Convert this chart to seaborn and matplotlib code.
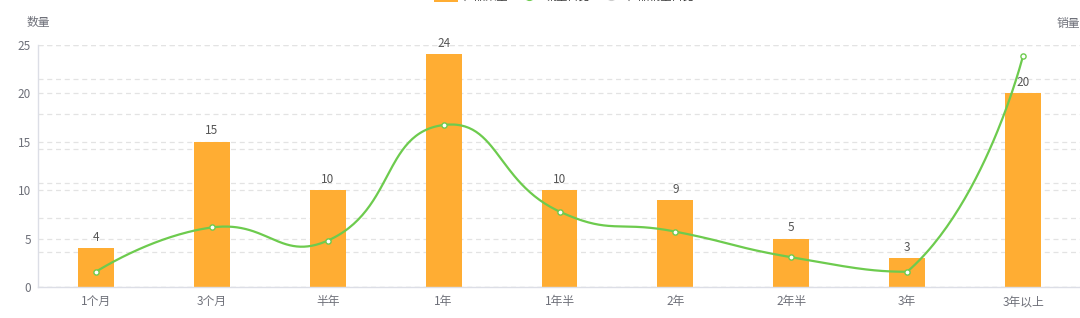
import numpy as np
import pandas as pd
import matplotlib
matplotlib.use("Agg")
import matplotlib.pyplot as plt
from matplotlib.lines import Line2D
from matplotlib.patches import Patch
import seaborn as sns

# ---------------- data ----------------
categories = ["1个月", "3个月", "半年", "1年", "1年半", "2年", "2年半", "3年", "3年以上"]
counts = [4, 15, 10, 24, 10, 9, 5, 3, 20]
sales_pct = [2.2, 8.6, 6.7, 23.4, 10.9, 8.0, 4.3, 2.2, 33.4]
legend_labels = ["产品数量", "销量占比", "产品销量占比"]
left_ticks = [0, 5, 10, 15, 20, 25]
right_max = 35
right_step = 5

# ---------------- style ----------------
sns.set_theme(style="white")
plt.rcParams["font.family"] = ["Noto Sans CJK SC", "DejaVu Sans"]
plt.rcParams["axes.unicode_minus"] = False

BAR = "#FFAD33"
LINE = "#6DCB4E"
TXT = "#6E7079"
AXC = "#DCDEE6"
GRID = "#E3E3E3"

W, H = 1080, 318
fig = plt.figure(figsize=(W / 100, H / 100), dpi=100)
left, right = 38 / W, 1081 / W
bottom, top = (H - 287) / H, (H - 44.7) / H
rect = [left, bottom, right - left, top - bottom]

# right-axis grid (kept underneath the bars)
axg = fig.add_axes(rect)
axg.set_zorder(0)
ax = fig.add_axes(rect)
ax.set_zorder(1)
ax.patch.set_visible(False)
axl = fig.add_axes(rect)
axl.set_zorder(2)
axl.patch.set_visible(False)

df = pd.DataFrame({"cat": categories, "count": counts})
sns.barplot(data=df, x="cat", y="count", color=BAR, width=0.31, ax=ax,
            saturation=1, linewidth=0)
ax.bar_label(ax.containers[0], padding=3, color="#555555", fontsize=8.5)

ax.set_xlim(-0.5, len(categories) - 0.5)
ax.set_ylim(0, left_ticks[-1])
ax.set_yticks(left_ticks)
ax.set_xlabel("")
ax.set_ylabel("")
ax.grid(axis="y", color=GRID, linestyle=(0, (4, 3)), linewidth=0.9)
ax.set_axisbelow(True)
for s in ["top", "right"]:
    ax.spines[s].set_visible(False)
for s in ["left", "bottom"]:
    ax.spines[s].set_color(AXC)
    ax.spines[s].set_linewidth(1)
ax.tick_params(axis="y", length=0, pad=5, labelsize=8.5, labelcolor=TXT)
ax.tick_params(axis="x", which="major", length=0, pad=6, labelsize=8.5, labelcolor=TXT)
ax.set_xticks(np.arange(-0.5, len(categories), 1.0), minor=True)
ax.tick_params(axis="x", which="minor", length=5, color=AXC, width=1)

# right grid axes
axg.set_xlim(ax.get_xlim())
axg.set_ylim(0, right_max)
axg.set_yticks(np.arange(0, right_max + 0.1, right_step))
axg.grid(axis="y", color=GRID, linestyle=(0, (4, 3)), linewidth=0.9)
axg.set_xticks([])
axg.tick_params(axis="y", length=0, labelleft=False)
for s in axg.spines.values():
    s.set_visible(False)

# smooth line (echarts-like bezier smoothing with bounding-box constraint)
xs = np.arange(len(categories), dtype=float)
ys = np.array(sales_pct, dtype=float)
sx = (1081 - 38) / len(categories)
sy = 242.3 / right_max
P = np.column_stack([xs * sx, ys * sy])
pmin, pmax = P.min(axis=0), P.max(axis=0)
smooth = 0.5
n = len(P)
cp0 = P.copy()
cp1 = P.copy()
for i in range(1, n - 1):
    v = (P[i + 1] - P[i - 1]) * smooth
    d0 = np.linalg.norm(P[i] - P[i - 1])
    d1 = np.linalg.norm(P[i + 1] - P[i])
    s = d0 + d1
    cp0[i] = np.clip(P[i] - v * d0 / s, pmin, pmax)
    cp1[i] = np.clip(P[i] + v * d1 / s, pmin, pmax)
curve = []
t = np.linspace(0, 1, 60)[:, None]
for i in range(n - 1):
    a, b, c, d = P[i], cp1[i], cp0[i + 1], P[i + 1]
    seg = (1 - t) ** 3 * a + 3 * (1 - t) ** 2 * t * b + 3 * (1 - t) * t ** 2 * c + t ** 3 * d
    curve.append(seg if i == 0 else seg[1:])
curve = np.vstack(curve)

axl.set_xlim(ax.get_xlim())
axl.set_ylim(0, right_max)
axl.plot(curve[:, 0] / sx, curve[:, 1] / sy, color=LINE, lw=1.6, solid_capstyle="round")
sns.scatterplot(x=xs, y=ys, ax=axl, s=14, color="white", edgecolor=LINE,
                linewidth=1, zorder=5, legend=False)
axl.set_xticks([])
axl.set_yticks([])
for s in axl.spines.values():
    s.set_visible(False)

# axis names
fig.text(38 / W, 1 - 22 / H, "数量", ha="center", va="center", fontsize=8.5, color=TXT)
fig.text(1080 / W, 1 - 24 / H, "销量", ha="right", va="center", fontsize=8.5, color=TXT)

# legend (cut off at the top as in the reference)
handles = [
    Patch(facecolor=BAR, edgecolor="none"),
    Line2D([0], [0], color=LINE, lw=1.6, marker="o", markersize=7,
           markerfacecolor="white", markeredgecolor=LINE),
    Line2D([0], [0], color="#CCCCCC", lw=1.6, marker="o", markersize=7,
           markerfacecolor="white", markeredgecolor="#CCCCCC"),
]
fig.legend(handles, legend_labels, loc="center", bbox_to_anchor=(564.5 / W, 1.0126),
           ncol=3, frameon=False, fontsize=8, labelcolor="#333333",
           handlelength=2.15, handleheight=1.2, handletextpad=0.45,
           columnspacing=0.8)

fig.savefig("out.png", dpi=100)
